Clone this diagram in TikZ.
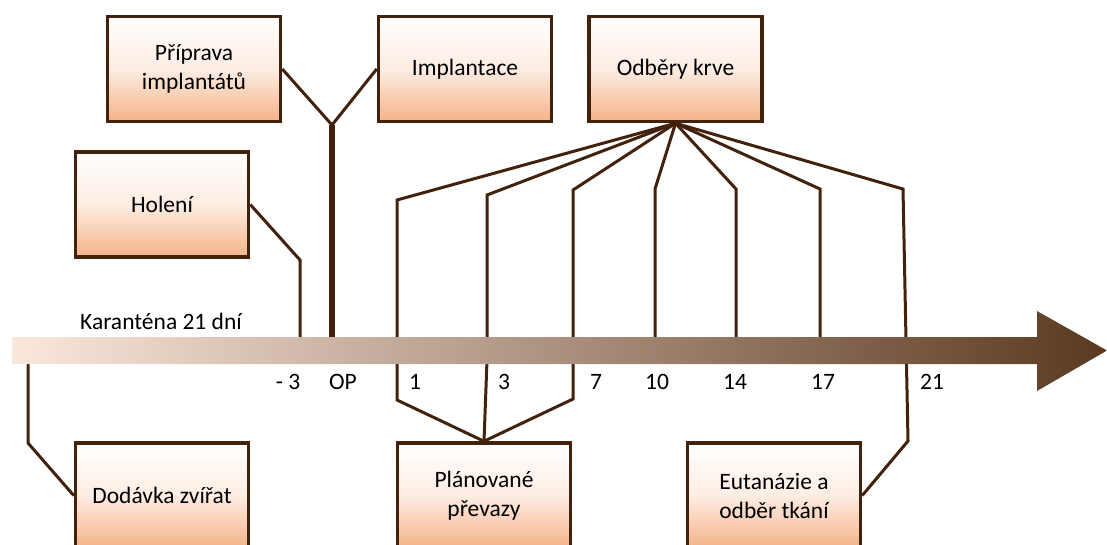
\documentclass[tikz,border=0pt]{standalone}
\usepackage{fontspec}
\setmainfont{Carlito}
\definecolor{brd}{HTML}{42210D}
\definecolor{peach}{HTML}{F4B288}
\definecolor{peachmid}{HTML}{FDEDE3}
\definecolor{barL}{HTML}{FBE8DC}
\definecolor{barM}{HTML}{D2B9A8}
\definecolor{barR}{HTML}{5A3920}
\begin{document}
\begin{tikzpicture}[x=1pt,y=-1pt,
  box/.style={draw=brd,line width=3.5pt,top color=white,bottom color=peach,middle color=peachmid,
    minimum width=173pt,minimum height=105pt,align=center,inner sep=0pt,
    font=\fontsize{23.5}{29}\selectfont},
  conn/.style={draw=brd,line width=3pt,line join=miter},
  lbl/.style={inner sep=0pt,font=\fontsize{23.5}{29}\selectfont}]
\useasboundingbox (0,0) rectangle (1107,544);
\clip (0,0) rectangle (1107,544);

% boxes (placed first so connectors can refer to them; drawn later on top)
\path
  node[box] (prep) at (194,69) {Příprava\\implantátů}
  node[box] (impl) at (465,69) {Implantace}
  node[box] (odb) at (675.5,69) {Odběry krve}
  node[box] (hol) at (162,204.5) {Holení}
  node[box] (dod) at (162,495.5) {Dodávka zvířat}
  node[box] (plan) at (484,495.5) {Plánované\\převazy}
  node[box] (eut) at (774,495.5) {Eutanázie a\\odběr tkání};

% named points
\coordinate (j) at (332,125);
\coordinate (opb) at (332,345);
\coordinate (hk) at (300,260);
\coordinate (hb) at (300,345);
\coordinate (dt) at (28,355);
\coordinate (dk) at (28,443);
\coordinate (k1) at (397,200);
\coordinate (k3) at (487,195);
\coordinate (k7) at (573,190);
\coordinate (k10) at (655,189);
\coordinate (k14) at (736,189);
\coordinate (k17) at (820,189);
\coordinate (k21) at (903,189);
\coordinate (p1) at (397,400);
\coordinate (p3) at (487,360);
\coordinate (p7) at (573,399);
\coordinate (p7t) at (573,345);
\coordinate (b10) at (655,345);
\coordinate (b14) at (736,345);
\coordinate (b17) at (820,345);
\coordinate (e21) at (908,441);

% connectors
\draw[conn] (prep.east) -- (j) -- (impl.west);
\draw[conn,line width=5.5pt] (j) -- (opb);
\draw[conn] (hol.east) -- (hk) -- (hb);
\draw[conn] (dt) -- (dk) -- (dod.west);
\draw[conn] (odb.south) -- (k1) -- (p1) -- (plan.north);
\draw[conn] (odb.south) -- (k3) -- (p3) -- (plan.north);
\draw[conn] (odb.south) -- (k7) -- (p7t);
\draw[conn] (p7t) -- (p7) -- (plan.north);
\draw[conn] (odb.south) -- (k10) -- (b10);
\draw[conn] (odb.south) -- (k14) -- (b14);
\draw[conn] (odb.south) -- (k17) -- (b17);
\draw[conn] (odb.south) -- (k21) -- (e21) -- (eut.east);

% time arrow
\shade[left color=barL,middle color=barM,right color=barR]
  (12,337) -- (1037,337) -- (1037,311) -- (1107,350.5) -- (1037,391) -- (1037,364) -- (12,364) -- cycle;

% boxes drawn on top
\path
  node[box] at (prep) {Příprava\\implantátů}
  node[box] at (impl) {Implantace}
  node[box] at (odb) {Odběry krve}
  node[box] at (hol) {Holení}
  node[box] at (dod) {Dodávka zvířat}
  node[box] at (plan) {Plánované\\převazy}
  node[box] at (eut) {Eutanázie a\\odběr tkání};

% labels
\node[lbl] (kar) at (161,321) {Karanténa 21 dní};
\node[lbl] (lm3) at (288,382) {- 3};
\node[lbl] (lop) at (343,382) {OP};
\node[lbl] (l1) at (415,382) {1};
\node[lbl] (l3) at (504,382) {3};
\node[lbl] (l7) at (596,382) {7};
\node[lbl] (l10) at (657,382) {10};
\node[lbl] (l14) at (735,382) {14};
\node[lbl] (l17) at (823,382) {17};
\node[lbl] (l21) at (932,382) {21};
\end{tikzpicture}
\end{document}
